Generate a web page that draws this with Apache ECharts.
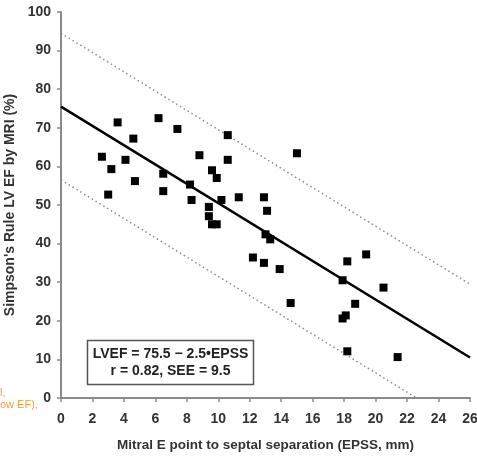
<!DOCTYPE html>
<html>
<head>
<meta charset="utf-8">
<script src="https://cdn.jsdelivr.net/npm/echarts@6/dist/echarts.min.js"></script>
<style>
  html, body { margin: 0; padding: 0; background: #fff; }
  #main { width: 477px; height: 456px; }
</style>
</head>
<body>
<div id="main"></div>
<script>
// EPSS (mm) vs Simpson's LVEF (%)
const patients = [
  [2.6, 62.5], [3.2, 59.3], [3.0, 52.7], [3.6, 71.4], [4.1, 61.7],
  [4.6, 67.2], [4.7, 56.2], [6.2, 72.5], [6.5, 58.1], [6.5, 53.6],
  [7.4, 69.7], [8.2, 55.3], [8.3, 51.3], [8.8, 62.9], [9.4, 49.5],
  [9.4, 47.1], [9.6, 45.0], [9.9, 45.0], [9.6, 59.0], [9.9, 57.0],
  [10.2, 51.3], [10.6, 68.1], [10.6, 61.7], [11.3, 52.0], [15.0, 63.4],
  [12.9, 52.0], [13.1, 48.5], [13.0, 42.4], [13.3, 41.1], [12.2, 36.4],
  [12.9, 35.0], [13.9, 33.4], [14.6, 24.6], [17.9, 30.5], [18.2, 35.4],
  [19.4, 37.2], [20.5, 28.6], [18.7, 24.4], [17.9, 20.6], [18.1, 21.4],
  [18.2, 12.1], [21.4, 10.6]
];
// regression line and +/- 2 SEE bounds
const fitLine = [[0, 75.5], [26, 10.5]];
const upperBound = [[0, 94.5], [26, 29.5]];
const lowerBound = [[0, 56.5], [22.6, 0]];
const equationText = ["LVEF = 75.5 \u2212 2.5\u2022EPSS", "r = 0.82, SEE = 9.5"];

let myChart = echarts.init(document.getElementById("main"));

const axisFont = {
  color: "#333",
  fontWeight: "bold",
  fontFamily: "Liberation Sans, Arial, sans-serif",
  fontSize: 14,
};

let option = {
  animation: false,
  grid: { left: 61, right: 7, top: 12, bottom: 58, containLabel: false, outerBoundsMode: "none" },
  xAxis: {
    type: "value",
    min: 0,
    max: 26,
    interval: 2,
    name: "Mitral E point to septal separation (EPSS, mm)",
    nameLocation: "middle",
    nameGap: 40,
    nameTextStyle: Object.assign({}, axisFont, { fontSize: 13.5 }),
    axisLine: { lineStyle: { color: "#8a8a8a", width: 2 } },
    axisTick: { length: 4, lineStyle: { color: "#8a8a8a", width: 1.5 } },
    axisLabel: Object.assign({ margin: 14 }, axisFont),
    splitLine: { show: false },
  },
  yAxis: {
    type: "value",
    min: 0,
    max: 100,
    interval: 10,
    name: "Simpson's Rule LV EF by MRI (%)",
    nameLocation: "middle",
    nameGap: 40,
    nameTextStyle: Object.assign({}, axisFont, { fontSize: 14 }),
    axisLine: { show: true, lineStyle: { color: "#8a8a8a", width: 2 } },
    axisTick: { show: true, length: 4, lineStyle: { color: "#8a8a8a", width: 1.5 } },
    axisLabel: Object.assign({ margin: 10 }, axisFont),
    splitLine: { show: false },
  },
  series: [
    {
      type: "line",
      data: upperBound,
      symbol: "none",
      lineStyle: { color: "#8c8c8c", width: 1.5, type: [1.5, 3] },
      z: 1,
    },
    {
      type: "line",
      data: lowerBound,
      symbol: "none",
      lineStyle: { color: "#8c8c8c", width: 1.5, type: [1.5, 3] },
      z: 1,
    },
    {
      type: "line",
      data: fitLine,
      symbol: "none",
      lineStyle: { color: "#000", width: 2.5 },
      z: 2,
    },
    {
      type: "scatter",
      data: patients,
      symbol: "rect",
      symbolSize: 8,
      itemStyle: { color: "#000", opacity: 1 },
      z: 3,
    },
  ],
  graphic: [
    {
      type: "rect",
      shape: { x: 87.5, y: 340.5, width: 166, height: 44 },
      style: { fill: "#fff", stroke: "#555", lineWidth: 1.5 },
      z: 10,
    },
    {
      type: "text",
      x: 170.5,
      y: 354,
      style: {
        text: equationText[0],
        align: "center",
        verticalAlign: "middle",
        fill: "#222",
        font: "bold 14px Liberation Sans, Arial, sans-serif",
      },
      z: 11,
    },
    {
      type: "text",
      x: 170.5,
      y: 371,
      style: {
        text: equationText[1],
        align: "center",
        verticalAlign: "middle",
        fill: "#222",
        font: "bold 14px Liberation Sans, Arial, sans-serif",
      },
      z: 11,
    },
    {
      type: "text",
      x: 0,
      y: 393,
      style: {
        text: "l,",
        verticalAlign: "middle",
        fill: "#f0a040",
        font: "11px Liberation Sans, Arial, sans-serif",
      },
    },
    {
      type: "text",
      x: 0,
      y: 405,
      style: {
        text: "ow EF),",
        verticalAlign: "middle",
        fill: "#f0a040",
        font: "11px Liberation Sans, Arial, sans-serif",
      },
    },
  ],
};

myChart.setOption(option);
window.addEventListener("resize", () => {
  myChart.resize();
});
</script>
</body>
</html>
